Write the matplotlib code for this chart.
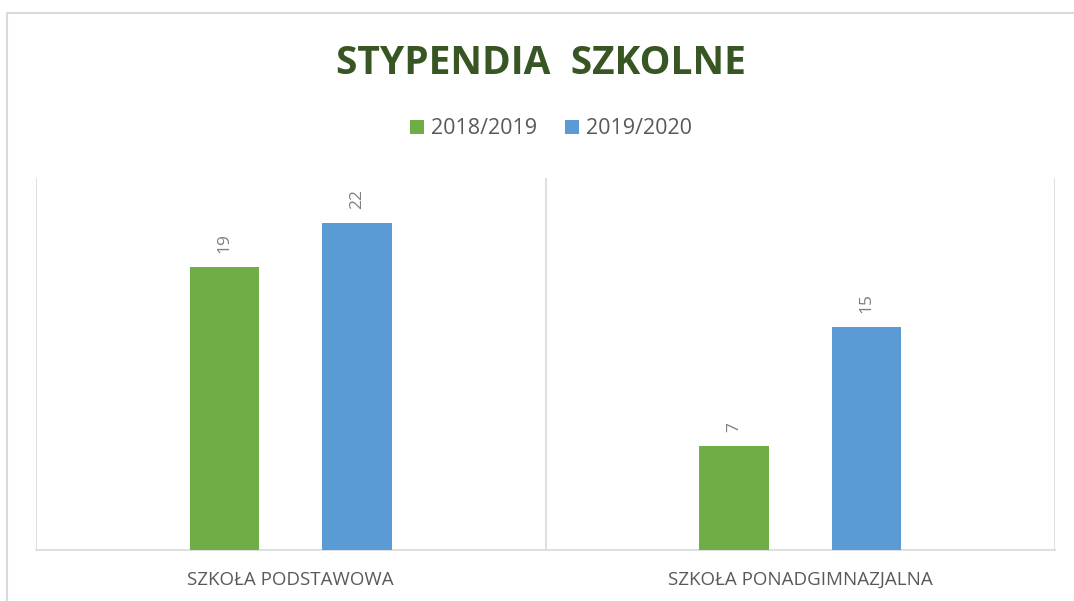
import matplotlib
matplotlib.use("Agg")
import matplotlib.pyplot as plt
from matplotlib.patches import Rectangle
import numpy as np

categories = ["SZKOŁA PODSTAWOWA", "SZKOŁA PONADGIMNAZJALNA"]
series_names = ["2018/2019", "2019/2020"]
values_2018 = [19, 7]
values_2019 = [22, 15]
colors = ["#70AD47", "#5B9BD5"]

W, H = 1074, 601
fig = plt.figure(figsize=(W / 100, H / 100), dpi=100)
plt.rcParams['font.family'] = ['Open Sans', 'DejaVu Sans']

# chart border (extends past the right and bottom edges)
fig.patches.append(Rectangle((6.5 / W, -0.2), 1.2, 1.2 - 12.5 / H, transform=fig.transFigure,
                             fill=False, edgecolor="#D9D9D9", linewidth=1.5))

L, R, B, T = 36, 1055, 550, 178
ax = fig.add_axes([L / W, 1 - B / H, (R - L) / W, (B - T) / H])
ax.set_xlim(-0.5, 1.5)
ax.set_ylim(0, 25)

x = np.arange(len(categories))
bw = 0.136
off = 0.13
ax.bar(x - off, values_2018, bw, color=colors[0], label=series_names[0], zorder=3)
ax.bar(x + off, values_2019, bw, color=colors[1], label=series_names[1], zorder=3)

for xi, v in zip(x - off, values_2018):
    ax.annotate(str(v), (xi, v), xytext=(0, 10), textcoords="offset points",
                rotation=90, ha="center", va="bottom", color="#7F7F7F", fontsize=12.5)
for xi, v in zip(x + off, values_2019):
    ax.annotate(str(v), (xi, v), xytext=(0, 10), textcoords="offset points",
                rotation=90, ha="center", va="bottom", color="#7F7F7F", fontsize=12.5)

# category separators
for sx in [-0.5, 0.5, 1.5]:
    ax.axvline(sx, color="#D9D9D9", linewidth=1.2, zorder=1)

for s in ["top", "right", "left"]:
    ax.spines[s].set_visible(False)
ax.spines["bottom"].set_color("#D9D9D9")
ax.spines["bottom"].set_linewidth(1.2)
ax.set_yticks([])
ax.set_xticks(x)
ax.set_xticklabels(categories, color="#595959", fontsize=13.5, va="baseline")
ax.tick_params(axis="x", length=0, pad=25)

fig.text(541 / W, 1 - 63 / H, "STYPENDIA  SZKOLNE", ha="center", va="center",
         fontsize=28, fontweight="bold", color="#375623")

leg = fig.legend(loc="center", bbox_to_anchor=(551 / W, 1 - 129 / H), ncol=2, frameon=False,
                 fontsize=15.5, handlelength=0.65, handleheight=0.65, handletextpad=0.3,
                 columnspacing=1.3, labelcolor="#595959")

fig.savefig("out.png", dpi=100)
